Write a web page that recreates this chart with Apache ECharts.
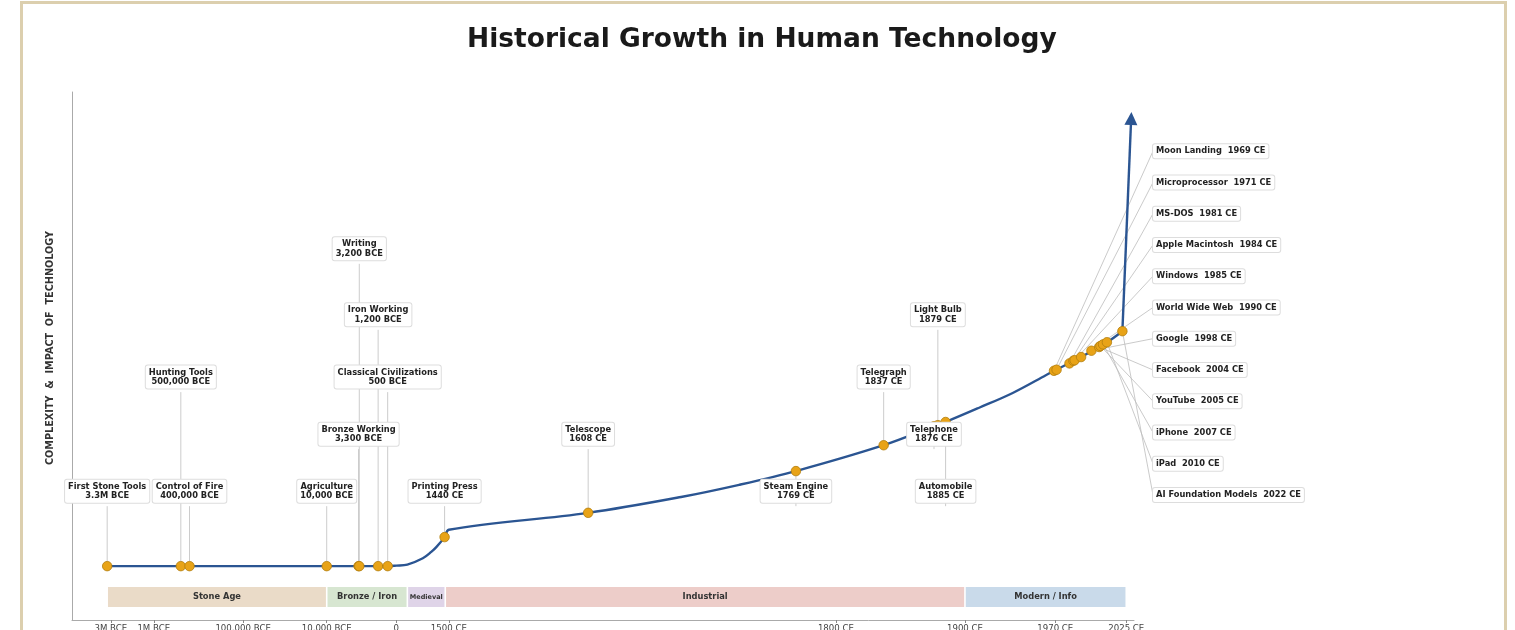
<!DOCTYPE html>
<html>
<head>
<meta charset="utf-8">
<title>Historical Growth in Human Technology</title>
<script src="https://cdn.jsdelivr.net/npm/echarts@6/dist/echarts.min.js"></script>
<style>
  html, body { margin: 0; padding: 0; background: #fff; }
  #chart { width: 1515px; height: 630px; }
</style>
</head>
<body>
<div id="chart"></div>
<script>
// milestones (sorted by year)
var eventNames = ['First Stone Tools', 'Hunting Tools', 'Control of Fire', 'Agriculture',
  'Bronze Working', 'Writing', 'Iron Working', 'Classical Civilizations', 'Printing Press',
  'Telescope', 'Steam Engine', 'Telegraph', 'Telephone', 'Light Bulb', 'Automobile',
  'Moon Landing', 'Microprocessor', 'MS-DOS', 'Apple Macintosh', 'Windows', 'World Wide Web',
  'Google', 'Facebook', 'YouTube', 'iPhone', 'iPad', 'AI Foundation Models'];
var eventYears = [-3300000, -500000, -400000, -10000, -3300, -3200, -1200, -500, 1440,
  1608, 1769, 1837, 1876, 1879, 1885,
  1969, 1971, 1981, 1984, 1985, 1990, 1998, 2004, 2005, 2007, 2010, 2022];
var eventDates = ['3.3M BCE', '500,000 BCE', '400,000 BCE', '10,000 BCE', '3,300 BCE',
  '3,200 BCE', '1,200 BCE', '500 BCE', '1440 CE', '1608 CE', '1769 CE', '1837 CE',
  '1876 CE', '1879 CE', '1885 CE', '1969 CE', '1971 CE', '1981 CE', '1984 CE', '1985 CE',
  '1990 CE', '1998 CE', '2004 CE', '2005 CE', '2007 CE', '2010 CE', '2022 CE'];
var eventValues = [10.2, 10.2, 10.2, 10.2, 10.2, 10.2, 10.2, 10.2, 15.7,
  20.3, 28.2, 33.1, 36.7, 36.9, 37.5,
  47.2, 47.4, 48.6, 49.1, 49.2, 49.8, 51.0, 51.7, 51.9, 52.2, 52.6, 54.7];

// growth curve
var curveYears = [-3300000, -500, 0, 500, 1000, 1200, 1300, 1440, 1500, 1608, 1680, 1725,
  1769, 1837, 1876, 1885, 1911, 1937, 1963, 1969, 1990, 2010, 2022];
var curveValues = [10.2, 10.2, 10.3, 10.5, 11.7, 12.9, 13.8, 15.7, 17.1, 20.3, 23.3, 25.6,
  28.2, 33.1, 36.7, 37.5, 40.2, 43.0, 46.4, 47.2, 49.8, 52.6, 54.7];
var arrowTip = [2029, 96.2];

// eras
var eraNames = ['Stone Age', 'Bronze / Iron', 'Medieval', 'Industrial', 'Modern / Info'];
var eraStarts = [-3300000, -10000, 500, 1450, 1900];
var eraEnds = [-10000, 500, 1450, 1900, 2025];

// x axis ticks
var tickYears = [-3000000, -1000000, -100000, -10000, 0, 1500, 1800, 1900, 1970, 2025];
var tickLabels = ['3M BCE', '1M BCE', '100,000 BCE', '10,000 BCE', '0', '1500 CE',
  '1800 CE', '1900 CE', '1970 CE', '2025 CE'];

// layout: label row for the first milestones, the rest are listed on the right
var labelTier = [0, 2, 0, 0, 1, 4, 3, 2, 0, 1, 0, 2, 1, 3, 0];
var tierValues = [24.4, 35.2, 46.0, 57.8, 70.3];
var eraColors = ['#eadbc8', '#d7e6d1', '#dfd4e8', '#edcdc9', '#c9daea'];
var eraFont = [8.3, 8.3, 6.5, 8.3, 8.3];

var X_MIN = -292, X_MAX = 531;
var LOG_1500 = Math.log10(2030 - 1500);

// log time before 1500 CE, linear years after
function toAxis(year) {
  if (year >= 1500) return year - 1500;
  return -(Math.log10(2030 - year) - LOG_1500) * 69.77;
}

var FONT = '"DejaVu Sans", sans-serif';
var BLUE = '#2b5592';
var chart = echarts.init(document.getElementById('chart'));

function labelPos(i, api) {
  var p = api.coord([toAxis(eventYears[i]), eventValues[i]]);
  if (i < labelTier.length) {
    var ly = api.coord([0, tierValues[labelTier[i]]])[1];
    return { px: p[0], py: p[1], x: p[0], y: ly, side: false };
  }
  var k = i - labelTier.length;
  var right = api.coord([X_MAX, 0])[0];
  var ly = api.coord([0, 88.8 - k * 5.92])[1];
  return { px: p[0], py: p[1], x: right + 19, y: ly, side: true };
}

var eventData = eventYears.map(function (y, i) {
  return [toAxis(y), eventValues[i], i];
});

var lastYear = curveYears[curveYears.length - 1];
var lastValue = curveValues[curveValues.length - 1];

var option = {
  backgroundColor: '#fff',
  animation: false,
  title: {
    text: 'Historical Growth in Human Technology',
    left: 462,
    top: 22,
    textStyle: { fontFamily: FONT, fontSize: 26.5, fontWeight: 'bold', color: '#1a1a1a' }
  },
  graphic: [
    {
      type: 'rect',
      shape: { x: 21.5, y: 2.5, width: 1484, height: 700 },
      style: { fill: 'none', stroke: '#dccfae', lineWidth: 3 },
      silent: true
    },
    {
      type: 'text',
      x: 50,
      y: 348,
      rotation: Math.PI / 2,
      style: {
        text: 'COMPLEXITY  &  IMPACT  OF  TECHNOLOGY',
        font: 'bold 9.7px ' + FONT,
        fill: '#333',
        align: 'center',
        verticalAlign: 'middle'
      }
    }
  ],
  grid: { left: 72, right: 381, top: 92, bottom: 10, outerBoundsMode: 'none' },
  xAxis: {
    type: 'value',
    min: X_MIN,
    max: X_MAX,
    splitLine: { show: false },
    axisLine: { onZero: false, lineStyle: { color: '#aaa', width: 1 } },
    axisTick: { customValues: tickYears.map(toAxis), length: 3, lineStyle: { color: '#888' } },
    axisLabel: {
      customValues: tickYears.map(toAxis),
      margin: 4,
      fontFamily: FONT,
      fontSize: 8.6,
      color: '#444',
      formatter: function (v) {
        for (var i = 0; i < tickYears.length; i++) {
          if (Math.abs(toAxis(tickYears[i]) - v) < 0.01) return tickLabels[i];
        }
        return '';
      }
    }
  },
  yAxis: {
    type: 'value',
    min: 0,
    max: 100,
    splitLine: { show: false },
    axisLine: { show: true, onZero: false, lineStyle: { color: '#aaa', width: 1 } },
    axisTick: { show: false },
    axisLabel: { show: false }
  },
  series: [
    {
      // era bands
      type: 'custom',
      z: 1,
      silent: true,
      encode: { x: [0, 1] },
      data: eraNames.map(function (n, i) { return [toAxis(eraStarts[i]), toAxis(eraEnds[i]), i]; }),
      renderItem: function (params, api) {
        var i = api.value(2);
        var p0 = api.coord([api.value(0), 6.25]);
        var p1 = api.coord([api.value(1), 2.46]);
        return {
          type: 'group',
          children: [
            {
              type: 'rect',
              shape: { x: p0[0] + 0.8, y: p0[1], width: p1[0] - p0[0] - 1.6, height: p1[1] - p0[1] },
              style: { fill: eraColors[i] }
            },
            {
              type: 'text',
              x: (p0[0] + p1[0]) / 2,
              y: (p0[1] + p1[1]) / 2,
              style: {
                text: eraNames[i],
                font: 'bold ' + eraFont[i] + 'px ' + FONT,
                fill: '#333',
                align: 'center',
                verticalAlign: 'middle'
              }
            }
          ]
        };
      }
    },
    {
      // connector lines
      type: 'custom',
      z: 2,
      silent: true,
      clip: false,
      data: eventData,
      renderItem: function (params, api) {
        var l = labelPos(api.value(2), api);
        return {
          type: 'line',
          shape: { x1: l.px, y1: l.py, x2: l.x, y2: l.side ? l.y : l.y + 15 },
          style: { stroke: l.side ? '#bdbdbd' : '#cccccc', lineWidth: l.side ? 0.8 : 1 }
        };
      }
    },
    {
      name: 'Technology',
      type: 'line',
      z: 3,
      data: curveYears.map(function (y, i) { return [toAxis(y), curveValues[i]]; }),
      smooth: 0.35,
      showSymbol: false,
      lineStyle: { color: BLUE, width: 2.4 }
    },
    {
      // arrow pointing onward from the latest milestone
      type: 'custom',
      z: 3,
      silent: true,
      clip: false,
      data: [[toAxis(lastYear), lastValue, toAxis(arrowTip[0]), arrowTip[1]]],
      renderItem: function (params, api) {
        var a = api.coord([api.value(0), api.value(1)]);
        var b = api.coord([api.value(2), api.value(3)]);
        var dx = b[0] - a[0], dy = b[1] - a[1];
        var len = Math.sqrt(dx * dx + dy * dy);
        var ux = dx / len, uy = dy / len;
        var hl = 13, hw = 6.5;
        var bx = b[0] - ux * hl, by = b[1] - uy * hl;
        return {
          type: 'group',
          children: [
            {
              type: 'line',
              shape: { x1: a[0], y1: a[1], x2: bx, y2: by },
              style: { stroke: BLUE, lineWidth: 2.4 }
            },
            {
              type: 'polygon',
              shape: { points: [[b[0], b[1]], [bx - uy * hw, by + ux * hw], [bx + uy * hw, by - ux * hw]] },
              style: { fill: BLUE }
            }
          ]
        };
      }
    },
    {
      type: 'scatter',
      z: 4,
      data: eventData,
      symbolSize: 9.5,
      itemStyle: { color: '#e8a317', borderColor: '#b37d0c', borderWidth: 0.8, opacity: 1 }
    },
    {
      // milestone labels
      type: 'custom',
      z: 5,
      silent: true,
      clip: false,
      data: eventData,
      renderItem: function (params, api) {
        var i = api.value(2);
        var l = labelPos(i, api);
        return {
          type: 'text',
          x: l.x,
          y: l.y,
          style: {
            text: l.side ? eventNames[i] + '  ' + eventDates[i] : eventNames[i] + '\n' + eventDates[i],
            font: 'bold 8.3px ' + FONT,
            fill: '#222',
            align: l.side ? 'left' : 'center',
            verticalAlign: 'middle',
            lineHeight: l.side ? 10 : 9.5,
            backgroundColor: '#fff',
            borderColor: '#dddddd',
            borderWidth: 1,
            borderRadius: 2,
            padding: [2, 3]
          }
        };
      }
    }
  ]
};

chart.setOption(option);
</script>
</body>
</html>
